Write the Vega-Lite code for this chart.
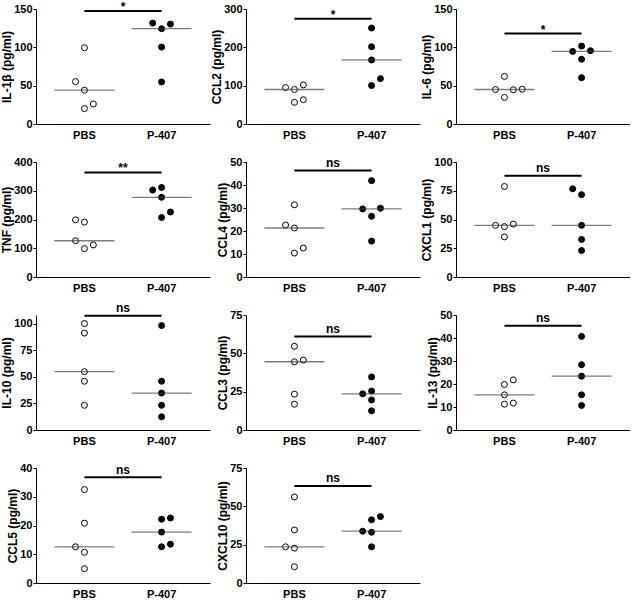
{
  "$schema": "https://vega.github.io/schema/vega-lite/v6.json",
  "padding": {"left": 0, "top": 0, "right": 0, "bottom": 0},
  "background": "white",
  "datasets": {
    "pts": [
      {"panel": "IL-1β", "group": "PBS", "value": 99.4, "slot": 0},
      {"panel": "IL-1β", "group": "PBS", "value": 55.3, "slot": -1},
      {"panel": "IL-1β", "group": "PBS", "value": 44.1, "slot": 0},
      {"panel": "IL-1β", "group": "PBS", "value": 26.1, "slot": 1},
      {"panel": "IL-1β", "group": "PBS", "value": 20.1, "slot": 0},
      {"panel": "IL-1β", "group": "P-407", "value": 131.6, "slot": -1},
      {"panel": "IL-1β", "group": "P-407", "value": 130.3, "slot": 1},
      {"panel": "IL-1β", "group": "P-407", "value": 124.3, "slot": 0},
      {"panel": "IL-1β", "group": "P-407", "value": 100.3, "slot": 0},
      {"panel": "IL-1β", "group": "P-407", "value": 54.9, "slot": 0},
      {"panel": "CCL2", "group": "PBS", "value": 95.1, "slot": -1},
      {"panel": "CCL2", "group": "PBS", "value": 90, "slot": 0},
      {"panel": "CCL2", "group": "PBS", "value": 102, "slot": 1},
      {"panel": "CCL2", "group": "PBS", "value": 56.6, "slot": 0},
      {"panel": "CCL2", "group": "PBS", "value": 63.4, "slot": 1},
      {"panel": "CCL2", "group": "P-407", "value": 250.3, "slot": 0},
      {"panel": "CCL2", "group": "P-407", "value": 201.4, "slot": 0},
      {"panel": "CCL2", "group": "P-407", "value": 167.1, "slot": 0},
      {"panel": "CCL2", "group": "P-407", "value": 118.3, "slot": 1},
      {"panel": "CCL2", "group": "P-407", "value": 100.3, "slot": 0},
      {"panel": "IL-6", "group": "PBS", "value": 62.1, "slot": 0},
      {"panel": "IL-6", "group": "PBS", "value": 45, "slot": -1},
      {"panel": "IL-6", "group": "PBS", "value": 44.6, "slot": 1},
      {"panel": "IL-6", "group": "PBS", "value": 45.4, "slot": 2},
      {"panel": "IL-6", "group": "PBS", "value": 34.7, "slot": 0},
      {"panel": "IL-6", "group": "P-407", "value": 101.6, "slot": 0},
      {"panel": "IL-6", "group": "P-407", "value": 94.7, "slot": -1},
      {"panel": "IL-6", "group": "P-407", "value": 95.6, "slot": 1},
      {"panel": "IL-6", "group": "P-407", "value": 84.4, "slot": 0},
      {"panel": "IL-6", "group": "P-407", "value": 60.4, "slot": 0},
      {"panel": "TNF", "group": "PBS", "value": 198.9, "slot": -1},
      {"panel": "TNF", "group": "PBS", "value": 190.9, "slot": 0},
      {"panel": "TNF", "group": "PBS", "value": 126.1, "slot": -1},
      {"panel": "TNF", "group": "PBS", "value": 111.4, "slot": 1},
      {"panel": "TNF", "group": "PBS", "value": 98.9, "slot": 0},
      {"panel": "TNF", "group": "P-407", "value": 302.3, "slot": -1},
      {"panel": "TNF", "group": "P-407", "value": 311.4, "slot": 0},
      {"panel": "TNF", "group": "P-407", "value": 277.3, "slot": 0},
      {"panel": "TNF", "group": "P-407", "value": 226.1, "slot": 1},
      {"panel": "TNF", "group": "P-407", "value": 206.8, "slot": 0},
      {"panel": "CCL4", "group": "PBS", "value": 31.4, "slot": 0},
      {"panel": "CCL4", "group": "PBS", "value": 22.6, "slot": -1},
      {"panel": "CCL4", "group": "PBS", "value": 21.3, "slot": 0},
      {"panel": "CCL4", "group": "PBS", "value": 10.4, "slot": 0},
      {"panel": "CCL4", "group": "PBS", "value": 12.6, "slot": 1},
      {"panel": "CCL4", "group": "P-407", "value": 41.9, "slot": 0},
      {"panel": "CCL4", "group": "P-407", "value": 29.6, "slot": -1},
      {"panel": "CCL4", "group": "P-407", "value": 29.9, "slot": 1},
      {"panel": "CCL4", "group": "P-407", "value": 26.4, "slot": 0},
      {"panel": "CCL4", "group": "P-407", "value": 15.6, "slot": 0},
      {"panel": "CXCL1", "group": "PBS", "value": 78.7, "slot": 0},
      {"panel": "CXCL1", "group": "PBS", "value": 44.9, "slot": -1},
      {"panel": "CXCL1", "group": "PBS", "value": 43.8, "slot": 0},
      {"panel": "CXCL1", "group": "PBS", "value": 46, "slot": 1},
      {"panel": "CXCL1", "group": "PBS", "value": 34.9, "slot": 0},
      {"panel": "CXCL1", "group": "P-407", "value": 76.7, "slot": -1},
      {"panel": "CXCL1", "group": "P-407", "value": 71.6, "slot": 0},
      {"panel": "CXCL1", "group": "P-407", "value": 44.9, "slot": 0},
      {"panel": "CXCL1", "group": "P-407", "value": 32.7, "slot": 0},
      {"panel": "CXCL1", "group": "P-407", "value": 23, "slot": 0},
      {"panel": "IL-10", "group": "PBS", "value": 100, "slot": 0},
      {"panel": "IL-10", "group": "PBS", "value": 91, "slot": 0},
      {"panel": "IL-10", "group": "PBS", "value": 54.8, "slot": 0},
      {"panel": "IL-10", "group": "PBS", "value": 45.8, "slot": 0},
      {"panel": "IL-10", "group": "PBS", "value": 23.2, "slot": 0},
      {"panel": "IL-10", "group": "P-407", "value": 98.1, "slot": 0},
      {"panel": "IL-10", "group": "P-407", "value": 45.8, "slot": 0},
      {"panel": "IL-10", "group": "P-407", "value": 34.7, "slot": 0},
      {"panel": "IL-10", "group": "P-407", "value": 23.2, "slot": 0},
      {"panel": "IL-10", "group": "P-407", "value": 12.4, "slot": 0},
      {"panel": "CCL3", "group": "PBS", "value": 54.6, "slot": 0},
      {"panel": "CCL3", "group": "PBS", "value": 44.5, "slot": 0},
      {"panel": "CCL3", "group": "PBS", "value": 45.6, "slot": 1},
      {"panel": "CCL3", "group": "PBS", "value": 23.4, "slot": 0},
      {"panel": "CCL3", "group": "PBS", "value": 16.8, "slot": 0},
      {"panel": "CCL3", "group": "P-407", "value": 34.6, "slot": 0},
      {"panel": "CCL3", "group": "P-407", "value": 25.4, "slot": 0},
      {"panel": "CCL3", "group": "P-407", "value": 23.6, "slot": -1},
      {"panel": "CCL3", "group": "P-407", "value": 19.6, "slot": 0},
      {"panel": "CCL3", "group": "P-407", "value": 12.5, "slot": 0},
      {"panel": "IL-13", "group": "PBS", "value": 19.8, "slot": 0},
      {"panel": "IL-13", "group": "PBS", "value": 21.8, "slot": 1},
      {"panel": "IL-13", "group": "PBS", "value": 15.3, "slot": 0},
      {"panel": "IL-13", "group": "PBS", "value": 11.2, "slot": 0},
      {"panel": "IL-13", "group": "PBS", "value": 11.7, "slot": 1},
      {"panel": "IL-13", "group": "P-407", "value": 40.7, "slot": 0},
      {"panel": "IL-13", "group": "P-407", "value": 28.4, "slot": 0},
      {"panel": "IL-13", "group": "P-407", "value": 23.4, "slot": 0},
      {"panel": "IL-13", "group": "P-407", "value": 15.3, "slot": 0},
      {"panel": "IL-13", "group": "P-407", "value": 10.7, "slot": 0},
      {"panel": "CCL5", "group": "PBS", "value": 32.5, "slot": 0},
      {"panel": "CCL5", "group": "PBS", "value": 20.8, "slot": 0},
      {"panel": "CCL5", "group": "PBS", "value": 12.6, "slot": -1},
      {"panel": "CCL5", "group": "PBS", "value": 10.7, "slot": 0},
      {"panel": "CCL5", "group": "PBS", "value": 5, "slot": 0},
      {"panel": "CCL5", "group": "P-407", "value": 22.2, "slot": 0},
      {"panel": "CCL5", "group": "P-407", "value": 22.6, "slot": 1},
      {"panel": "CCL5", "group": "P-407", "value": 17.7, "slot": 0},
      {"panel": "CCL5", "group": "P-407", "value": 12.6, "slot": 0},
      {"panel": "CCL5", "group": "P-407", "value": 13.5, "slot": 1},
      {"panel": "CXCL10", "group": "PBS", "value": 56.1, "slot": 0},
      {"panel": "CXCL10", "group": "PBS", "value": 34.6, "slot": 0},
      {"panel": "CXCL10", "group": "PBS", "value": 23.6, "slot": -1},
      {"panel": "CXCL10", "group": "PBS", "value": 22.7, "slot": 0},
      {"panel": "CXCL10", "group": "PBS", "value": 10.6, "slot": 0},
      {"panel": "CXCL10", "group": "P-407", "value": 41.2, "slot": 0},
      {"panel": "CXCL10", "group": "P-407", "value": 43.3, "slot": 1},
      {"panel": "CXCL10", "group": "P-407", "value": 33.8, "slot": -1},
      {"panel": "CXCL10", "group": "P-407", "value": 33.1, "slot": 0},
      {"panel": "CXCL10", "group": "P-407", "value": 23.6, "slot": 0}
    ],
    "sig": [
      {"panel": "IL-1β", "group": "PBS", "to": "P-407", "value": 147.4, "label": "*"},
      {"panel": "CCL2", "group": "PBS", "to": "P-407", "value": 274.3, "label": "*"},
      {"panel": "IL-6", "group": "PBS", "to": "P-407", "value": 117.9, "label": "*"},
      {"panel": "TNF", "group": "PBS", "to": "P-407", "value": 363.6, "label": "**"},
      {"panel": "CCL4", "group": "PBS", "to": "P-407", "value": 46.3, "label": "ns"},
      {"panel": "CXCL1", "group": "PBS", "to": "P-407", "value": 88.1, "label": "ns"},
      {"panel": "IL-10", "group": "PBS", "to": "P-407", "value": 107.4, "label": "ns"},
      {"panel": "CCL3", "group": "PBS", "to": "P-407", "value": 61, "label": "ns"},
      {"panel": "IL-13", "group": "PBS", "to": "P-407", "value": 45.3, "label": "ns"},
      {"panel": "CCL5", "group": "PBS", "to": "P-407", "value": 36.8, "label": "ns"},
      {"panel": "CXCL10", "group": "PBS", "to": "P-407", "value": 63.3, "label": "ns"}
    ]
  },
  "columns": 3,
  "bounds": "flush",
  "spacing": {"row": 38, "column": 36},
  "concat": [
    {"width": 174, "height": 115, "data": {"name": "pts"}, "transform": [{"filter": "datum.panel === 'IL-1β'"}],
     "encoding": {
       "x": {"field": "group", "type": "nominal", "scale": {"domain": ["PBS", "P-407"], "paddingInner": 0, "paddingOuter": 0.128}, "axis": {"title": null}},
       "y": {"field": "value", "type": "quantitative", "scale": {"domain": [0, 150], "nice": false}, "axis": {"title": "IL-1β (pg/ml)", "values": [0, 50, 100, 150]}}},
     "layer": [
      {"mark": {"type": "point", "shape": "circle", "size": 36, "filled": true, "stroke": "black", "strokeWidth": 1, "opacity": 1},
       "encoding": {"xOffset": {"field": "slot", "type": "quantitative", "scale": {"domain": [-4.333, 4.333]}}, "fill": {"field": "group", "type": "nominal", "scale": {"domain": ["PBS", "P-407"], "range": ["white", "black"]}, "legend": null}}},
      {"transform": [{"aggregate": [{"op": "median", "field": "value", "as": "value"}], "groupby": ["group"]}], "mark": {"type": "tick", "size": 60, "thickness": 1.3, "color": "#444444"}},
      {"data": {"name": "sig"}, "transform": [{"filter": "datum.panel === 'IL-1β'"}], "mark": {"type": "rule", "strokeWidth": 2, "color": "black"},
       "encoding": {"x": {"field": "group", "type": "nominal", "bandPosition": 0.5}, "x2": {"field": "to", "bandPosition": 0.5}}},
      {"data": {"name": "sig"}, "transform": [{"filter": "datum.panel === 'IL-1β'"}], "mark": {"type": "text", "fontWeight": "bold", "fontSize": 12, "baseline": "alphabetic", "dy": {"expr": "datum.label === 'ns' ? -3.5 : 0"}},
       "encoding": {"x": {"field": "group", "type": "nominal", "bandPosition": 1}, "text": {"field": "label"}}}
     ]},
    {"width": 174, "height": 115, "data": {"name": "pts"}, "transform": [{"filter": "datum.panel === 'CCL2'"}],
     "encoding": {
       "x": {"field": "group", "type": "nominal", "scale": {"domain": ["PBS", "P-407"], "paddingInner": 0, "paddingOuter": 0.128}, "axis": {"title": null}},
       "y": {"field": "value", "type": "quantitative", "scale": {"domain": [0, 300], "nice": false}, "axis": {"title": "CCL2 (pg/ml)", "values": [0, 100, 200, 300]}}},
     "layer": [
      {"mark": {"type": "point", "shape": "circle", "size": 36, "filled": true, "stroke": "black", "strokeWidth": 1, "opacity": 1},
       "encoding": {"xOffset": {"field": "slot", "type": "quantitative", "scale": {"domain": [-4.333, 4.333]}}, "fill": {"field": "group", "type": "nominal", "scale": {"domain": ["PBS", "P-407"], "range": ["white", "black"]}, "legend": null}}},
      {"transform": [{"aggregate": [{"op": "median", "field": "value", "as": "value"}], "groupby": ["group"]}], "mark": {"type": "tick", "size": 60, "thickness": 1.3, "color": "#444444"}},
      {"data": {"name": "sig"}, "transform": [{"filter": "datum.panel === 'CCL2'"}], "mark": {"type": "rule", "strokeWidth": 2, "color": "black"},
       "encoding": {"x": {"field": "group", "type": "nominal", "bandPosition": 0.5}, "x2": {"field": "to", "bandPosition": 0.5}}},
      {"data": {"name": "sig"}, "transform": [{"filter": "datum.panel === 'CCL2'"}], "mark": {"type": "text", "fontWeight": "bold", "fontSize": 12, "baseline": "alphabetic", "dy": {"expr": "datum.label === 'ns' ? -3.5 : 0"}},
       "encoding": {"x": {"field": "group", "type": "nominal", "bandPosition": 1}, "text": {"field": "label"}}}
     ]},
    {"width": 174, "height": 115, "data": {"name": "pts"}, "transform": [{"filter": "datum.panel === 'IL-6'"}],
     "encoding": {
       "x": {"field": "group", "type": "nominal", "scale": {"domain": ["PBS", "P-407"], "paddingInner": 0, "paddingOuter": 0.128}, "axis": {"title": null}},
       "y": {"field": "value", "type": "quantitative", "scale": {"domain": [0, 150], "nice": false}, "axis": {"title": "IL-6 (pg/ml)", "values": [0, 50, 100, 150]}}},
     "layer": [
      {"mark": {"type": "point", "shape": "circle", "size": 36, "filled": true, "stroke": "black", "strokeWidth": 1, "opacity": 1},
       "encoding": {"xOffset": {"field": "slot", "type": "quantitative", "scale": {"domain": [-4.333, 4.333]}}, "fill": {"field": "group", "type": "nominal", "scale": {"domain": ["PBS", "P-407"], "range": ["white", "black"]}, "legend": null}}},
      {"transform": [{"aggregate": [{"op": "median", "field": "value", "as": "value"}], "groupby": ["group"]}], "mark": {"type": "tick", "size": 60, "thickness": 1.3, "color": "#444444"}},
      {"data": {"name": "sig"}, "transform": [{"filter": "datum.panel === 'IL-6'"}], "mark": {"type": "rule", "strokeWidth": 2, "color": "black"},
       "encoding": {"x": {"field": "group", "type": "nominal", "bandPosition": 0.5}, "x2": {"field": "to", "bandPosition": 0.5}}},
      {"data": {"name": "sig"}, "transform": [{"filter": "datum.panel === 'IL-6'"}], "mark": {"type": "text", "fontWeight": "bold", "fontSize": 12, "baseline": "alphabetic", "dy": {"expr": "datum.label === 'ns' ? -3.5 : 0"}},
       "encoding": {"x": {"field": "group", "type": "nominal", "bandPosition": 1}, "text": {"field": "label"}}}
     ]},
    {"width": 174, "height": 115, "data": {"name": "pts"}, "transform": [{"filter": "datum.panel === 'TNF'"}],
     "encoding": {
       "x": {"field": "group", "type": "nominal", "scale": {"domain": ["PBS", "P-407"], "paddingInner": 0, "paddingOuter": 0.128}, "axis": {"title": null}},
       "y": {"field": "value", "type": "quantitative", "scale": {"domain": [0, 400], "nice": false}, "axis": {"title": "TNF (pg/ml)", "values": [0, 100, 200, 300, 400]}}},
     "layer": [
      {"mark": {"type": "point", "shape": "circle", "size": 36, "filled": true, "stroke": "black", "strokeWidth": 1, "opacity": 1},
       "encoding": {"xOffset": {"field": "slot", "type": "quantitative", "scale": {"domain": [-4.333, 4.333]}}, "fill": {"field": "group", "type": "nominal", "scale": {"domain": ["PBS", "P-407"], "range": ["white", "black"]}, "legend": null}}},
      {"transform": [{"aggregate": [{"op": "median", "field": "value", "as": "value"}], "groupby": ["group"]}], "mark": {"type": "tick", "size": 60, "thickness": 1.3, "color": "#444444"}},
      {"data": {"name": "sig"}, "transform": [{"filter": "datum.panel === 'TNF'"}], "mark": {"type": "rule", "strokeWidth": 2, "color": "black"},
       "encoding": {"x": {"field": "group", "type": "nominal", "bandPosition": 0.5}, "x2": {"field": "to", "bandPosition": 0.5}}},
      {"data": {"name": "sig"}, "transform": [{"filter": "datum.panel === 'TNF'"}], "mark": {"type": "text", "fontWeight": "bold", "fontSize": 12, "baseline": "alphabetic", "dy": {"expr": "datum.label === 'ns' ? -3.5 : 0"}},
       "encoding": {"x": {"field": "group", "type": "nominal", "bandPosition": 1}, "text": {"field": "label"}}}
     ]},
    {"width": 174, "height": 115, "data": {"name": "pts"}, "transform": [{"filter": "datum.panel === 'CCL4'"}],
     "encoding": {
       "x": {"field": "group", "type": "nominal", "scale": {"domain": ["PBS", "P-407"], "paddingInner": 0, "paddingOuter": 0.128}, "axis": {"title": null}},
       "y": {"field": "value", "type": "quantitative", "scale": {"domain": [0, 50], "nice": false}, "axis": {"title": "CCL4 (pg/ml)", "values": [0, 10, 20, 30, 40, 50]}}},
     "layer": [
      {"mark": {"type": "point", "shape": "circle", "size": 36, "filled": true, "stroke": "black", "strokeWidth": 1, "opacity": 1},
       "encoding": {"xOffset": {"field": "slot", "type": "quantitative", "scale": {"domain": [-4.333, 4.333]}}, "fill": {"field": "group", "type": "nominal", "scale": {"domain": ["PBS", "P-407"], "range": ["white", "black"]}, "legend": null}}},
      {"transform": [{"aggregate": [{"op": "median", "field": "value", "as": "value"}], "groupby": ["group"]}], "mark": {"type": "tick", "size": 60, "thickness": 1.3, "color": "#444444"}},
      {"data": {"name": "sig"}, "transform": [{"filter": "datum.panel === 'CCL4'"}], "mark": {"type": "rule", "strokeWidth": 2, "color": "black"},
       "encoding": {"x": {"field": "group", "type": "nominal", "bandPosition": 0.5}, "x2": {"field": "to", "bandPosition": 0.5}}},
      {"data": {"name": "sig"}, "transform": [{"filter": "datum.panel === 'CCL4'"}], "mark": {"type": "text", "fontWeight": "bold", "fontSize": 12, "baseline": "alphabetic", "dy": {"expr": "datum.label === 'ns' ? -3.5 : 0"}},
       "encoding": {"x": {"field": "group", "type": "nominal", "bandPosition": 1}, "text": {"field": "label"}}}
     ]},
    {"width": 174, "height": 115, "data": {"name": "pts"}, "transform": [{"filter": "datum.panel === 'CXCL1'"}],
     "encoding": {
       "x": {"field": "group", "type": "nominal", "scale": {"domain": ["PBS", "P-407"], "paddingInner": 0, "paddingOuter": 0.128}, "axis": {"title": null}},
       "y": {"field": "value", "type": "quantitative", "scale": {"domain": [0, 100], "nice": false}, "axis": {"title": "CXCL1 (pg/ml)", "values": [0, 25, 50, 75, 100]}}},
     "layer": [
      {"mark": {"type": "point", "shape": "circle", "size": 36, "filled": true, "stroke": "black", "strokeWidth": 1, "opacity": 1},
       "encoding": {"xOffset": {"field": "slot", "type": "quantitative", "scale": {"domain": [-4.333, 4.333]}}, "fill": {"field": "group", "type": "nominal", "scale": {"domain": ["PBS", "P-407"], "range": ["white", "black"]}, "legend": null}}},
      {"transform": [{"aggregate": [{"op": "median", "field": "value", "as": "value"}], "groupby": ["group"]}], "mark": {"type": "tick", "size": 60, "thickness": 1.3, "color": "#444444"}},
      {"data": {"name": "sig"}, "transform": [{"filter": "datum.panel === 'CXCL1'"}], "mark": {"type": "rule", "strokeWidth": 2, "color": "black"},
       "encoding": {"x": {"field": "group", "type": "nominal", "bandPosition": 0.5}, "x2": {"field": "to", "bandPosition": 0.5}}},
      {"data": {"name": "sig"}, "transform": [{"filter": "datum.panel === 'CXCL1'"}], "mark": {"type": "text", "fontWeight": "bold", "fontSize": 12, "baseline": "alphabetic", "dy": {"expr": "datum.label === 'ns' ? -3.5 : 0"}},
       "encoding": {"x": {"field": "group", "type": "nominal", "bandPosition": 1}, "text": {"field": "label"}}}
     ]},
    {"width": 174, "height": 115, "data": {"name": "pts"}, "transform": [{"filter": "datum.panel === 'IL-10'"}],
     "encoding": {
       "x": {"field": "group", "type": "nominal", "scale": {"domain": ["PBS", "P-407"], "paddingInner": 0, "paddingOuter": 0.128}, "axis": {"title": null}},
       "y": {"field": "value", "type": "quantitative", "scale": {"domain": [0, 108], "nice": false}, "axis": {"title": "IL-10 (pg/ml)", "values": [0, 25, 50, 75, 100]}}},
     "layer": [
      {"mark": {"type": "point", "shape": "circle", "size": 36, "filled": true, "stroke": "black", "strokeWidth": 1, "opacity": 1},
       "encoding": {"xOffset": {"field": "slot", "type": "quantitative", "scale": {"domain": [-4.333, 4.333]}}, "fill": {"field": "group", "type": "nominal", "scale": {"domain": ["PBS", "P-407"], "range": ["white", "black"]}, "legend": null}}},
      {"transform": [{"aggregate": [{"op": "median", "field": "value", "as": "value"}], "groupby": ["group"]}], "mark": {"type": "tick", "size": 60, "thickness": 1.3, "color": "#444444"}},
      {"data": {"name": "sig"}, "transform": [{"filter": "datum.panel === 'IL-10'"}], "mark": {"type": "rule", "strokeWidth": 2, "color": "black"},
       "encoding": {"x": {"field": "group", "type": "nominal", "bandPosition": 0.5}, "x2": {"field": "to", "bandPosition": 0.5}}},
      {"data": {"name": "sig"}, "transform": [{"filter": "datum.panel === 'IL-10'"}], "mark": {"type": "text", "fontWeight": "bold", "fontSize": 12, "baseline": "alphabetic", "dy": {"expr": "datum.label === 'ns' ? -3.5 : 0"}},
       "encoding": {"x": {"field": "group", "type": "nominal", "bandPosition": 1}, "text": {"field": "label"}}}
     ]},
    {"width": 174, "height": 115, "data": {"name": "pts"}, "transform": [{"filter": "datum.panel === 'CCL3'"}],
     "encoding": {
       "x": {"field": "group", "type": "nominal", "scale": {"domain": ["PBS", "P-407"], "paddingInner": 0, "paddingOuter": 0.128}, "axis": {"title": null}},
       "y": {"field": "value", "type": "quantitative", "scale": {"domain": [0, 75], "nice": false}, "axis": {"title": "CCL3 (pg/ml)", "values": [0, 25, 50, 75]}}},
     "layer": [
      {"mark": {"type": "point", "shape": "circle", "size": 36, "filled": true, "stroke": "black", "strokeWidth": 1, "opacity": 1},
       "encoding": {"xOffset": {"field": "slot", "type": "quantitative", "scale": {"domain": [-4.333, 4.333]}}, "fill": {"field": "group", "type": "nominal", "scale": {"domain": ["PBS", "P-407"], "range": ["white", "black"]}, "legend": null}}},
      {"transform": [{"aggregate": [{"op": "median", "field": "value", "as": "value"}], "groupby": ["group"]}], "mark": {"type": "tick", "size": 60, "thickness": 1.3, "color": "#444444"}},
      {"data": {"name": "sig"}, "transform": [{"filter": "datum.panel === 'CCL3'"}], "mark": {"type": "rule", "strokeWidth": 2, "color": "black"},
       "encoding": {"x": {"field": "group", "type": "nominal", "bandPosition": 0.5}, "x2": {"field": "to", "bandPosition": 0.5}}},
      {"data": {"name": "sig"}, "transform": [{"filter": "datum.panel === 'CCL3'"}], "mark": {"type": "text", "fontWeight": "bold", "fontSize": 12, "baseline": "alphabetic", "dy": {"expr": "datum.label === 'ns' ? -3.5 : 0"}},
       "encoding": {"x": {"field": "group", "type": "nominal", "bandPosition": 1}, "text": {"field": "label"}}}
     ]},
    {"width": 174, "height": 115, "data": {"name": "pts"}, "transform": [{"filter": "datum.panel === 'IL-13'"}],
     "encoding": {
       "x": {"field": "group", "type": "nominal", "scale": {"domain": ["PBS", "P-407"], "paddingInner": 0, "paddingOuter": 0.128}, "axis": {"title": null}},
       "y": {"field": "value", "type": "quantitative", "scale": {"domain": [0, 50], "nice": false}, "axis": {"title": "IL-13 (pg/ml)", "values": [0, 10, 20, 30, 40, 50]}}},
     "layer": [
      {"mark": {"type": "point", "shape": "circle", "size": 36, "filled": true, "stroke": "black", "strokeWidth": 1, "opacity": 1},
       "encoding": {"xOffset": {"field": "slot", "type": "quantitative", "scale": {"domain": [-4.333, 4.333]}}, "fill": {"field": "group", "type": "nominal", "scale": {"domain": ["PBS", "P-407"], "range": ["white", "black"]}, "legend": null}}},
      {"transform": [{"aggregate": [{"op": "median", "field": "value", "as": "value"}], "groupby": ["group"]}], "mark": {"type": "tick", "size": 60, "thickness": 1.3, "color": "#444444"}},
      {"data": {"name": "sig"}, "transform": [{"filter": "datum.panel === 'IL-13'"}], "mark": {"type": "rule", "strokeWidth": 2, "color": "black"},
       "encoding": {"x": {"field": "group", "type": "nominal", "bandPosition": 0.5}, "x2": {"field": "to", "bandPosition": 0.5}}},
      {"data": {"name": "sig"}, "transform": [{"filter": "datum.panel === 'IL-13'"}], "mark": {"type": "text", "fontWeight": "bold", "fontSize": 12, "baseline": "alphabetic", "dy": {"expr": "datum.label === 'ns' ? -3.5 : 0"}},
       "encoding": {"x": {"field": "group", "type": "nominal", "bandPosition": 1}, "text": {"field": "label"}}}
     ]},
    {"width": 174, "height": 115, "data": {"name": "pts"}, "transform": [{"filter": "datum.panel === 'CCL5'"}],
     "encoding": {
       "x": {"field": "group", "type": "nominal", "scale": {"domain": ["PBS", "P-407"], "paddingInner": 0, "paddingOuter": 0.128}, "axis": {"title": null}},
       "y": {"field": "value", "type": "quantitative", "scale": {"domain": [0, 40], "nice": false}, "axis": {"title": "CCL5 (pg/ml)", "values": [0, 10, 20, 30, 40]}}},
     "layer": [
      {"mark": {"type": "point", "shape": "circle", "size": 36, "filled": true, "stroke": "black", "strokeWidth": 1, "opacity": 1},
       "encoding": {"xOffset": {"field": "slot", "type": "quantitative", "scale": {"domain": [-4.333, 4.333]}}, "fill": {"field": "group", "type": "nominal", "scale": {"domain": ["PBS", "P-407"], "range": ["white", "black"]}, "legend": null}}},
      {"transform": [{"aggregate": [{"op": "median", "field": "value", "as": "value"}], "groupby": ["group"]}], "mark": {"type": "tick", "size": 60, "thickness": 1.3, "color": "#444444"}},
      {"data": {"name": "sig"}, "transform": [{"filter": "datum.panel === 'CCL5'"}], "mark": {"type": "rule", "strokeWidth": 2, "color": "black"},
       "encoding": {"x": {"field": "group", "type": "nominal", "bandPosition": 0.5}, "x2": {"field": "to", "bandPosition": 0.5}}},
      {"data": {"name": "sig"}, "transform": [{"filter": "datum.panel === 'CCL5'"}], "mark": {"type": "text", "fontWeight": "bold", "fontSize": 12, "baseline": "alphabetic", "dy": {"expr": "datum.label === 'ns' ? -3.5 : 0"}},
       "encoding": {"x": {"field": "group", "type": "nominal", "bandPosition": 1}, "text": {"field": "label"}}}
     ]},
    {"width": 174, "height": 115, "data": {"name": "pts"}, "transform": [{"filter": "datum.panel === 'CXCL10'"}],
     "encoding": {
       "x": {"field": "group", "type": "nominal", "scale": {"domain": ["PBS", "P-407"], "paddingInner": 0, "paddingOuter": 0.128}, "axis": {"title": null}},
       "y": {"field": "value", "type": "quantitative", "scale": {"domain": [0, 75], "nice": false}, "axis": {"title": "CXCL10 (pg/ml)", "values": [0, 25, 50, 75]}}},
     "layer": [
      {"mark": {"type": "point", "shape": "circle", "size": 36, "filled": true, "stroke": "black", "strokeWidth": 1, "opacity": 1},
       "encoding": {"xOffset": {"field": "slot", "type": "quantitative", "scale": {"domain": [-4.333, 4.333]}}, "fill": {"field": "group", "type": "nominal", "scale": {"domain": ["PBS", "P-407"], "range": ["white", "black"]}, "legend": null}}},
      {"transform": [{"aggregate": [{"op": "median", "field": "value", "as": "value"}], "groupby": ["group"]}], "mark": {"type": "tick", "size": 60, "thickness": 1.3, "color": "#444444"}},
      {"data": {"name": "sig"}, "transform": [{"filter": "datum.panel === 'CXCL10'"}], "mark": {"type": "rule", "strokeWidth": 2, "color": "black"},
       "encoding": {"x": {"field": "group", "type": "nominal", "bandPosition": 0.5}, "x2": {"field": "to", "bandPosition": 0.5}}},
      {"data": {"name": "sig"}, "transform": [{"filter": "datum.panel === 'CXCL10'"}], "mark": {"type": "text", "fontWeight": "bold", "fontSize": 12, "baseline": "alphabetic", "dy": {"expr": "datum.label === 'ns' ? -3.5 : 0"}},
       "encoding": {"x": {"field": "group", "type": "nominal", "bandPosition": 1}, "text": {"field": "label"}}}
     ]}
  ],
  "config": {
    "view": {"stroke": null},
    "font": "Liberation Sans",
    "axis": {"domainColor": "black", "tickColor": "black", "labelColor": "black", "titleColor": "black", "labelFont": "Liberation Sans", "titleFont": "Liberation Sans", "labelFontWeight": "bold", "titleFontWeight": "bold", "labelFontSize": 11, "titleFontSize": 12, "grid": false, "tickSize": 3, "domainWidth": 1},
    "axisX": {"ticks": false, "labelAngle": 0, "labelPadding": 5},
    "axisY": {"titlePadding": 0, "labelPadding": 1}
  }
}
